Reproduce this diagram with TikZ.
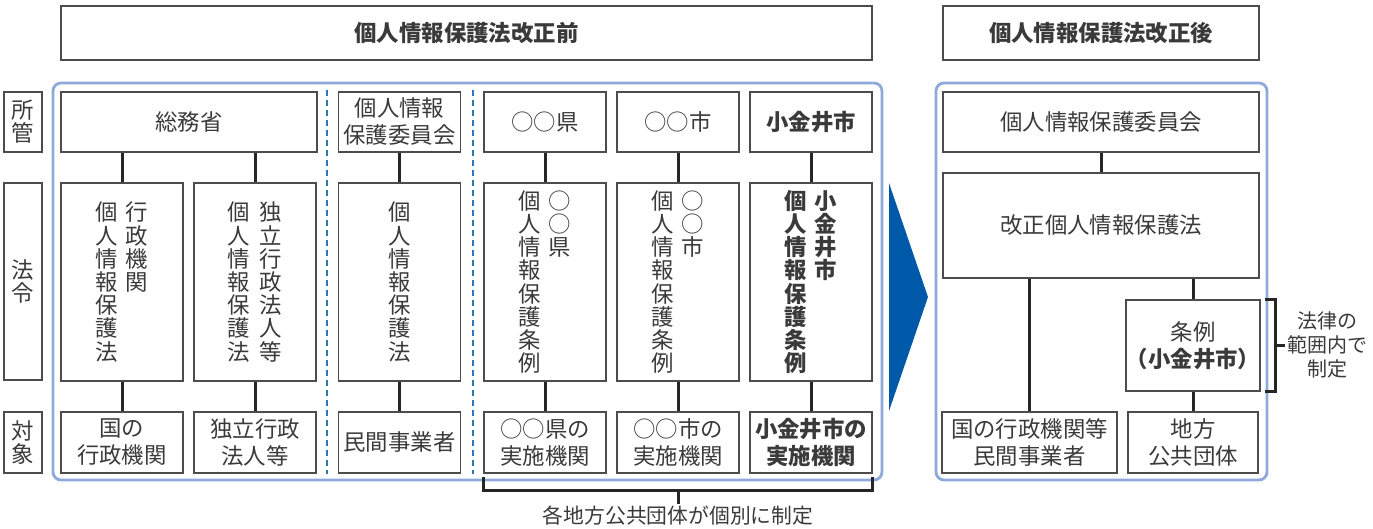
\documentclass[tikz,border=0pt]{standalone}
\usepackage{fontspec}
\setmainfont{Noto Sans CJK JP}
\usetikzlibrary{positioning}
\definecolor{framecol}{HTML}{8EAADB}
\definecolor{dashcol}{HTML}{2E75B6}
\definecolor{arrowcol}{HTML}{0058A8}
\definecolor{inkcol}{HTML}{3A3A3A}
\tikzset{
  box/.style    = {draw=black!70, line width=0.75pt, text=inkcol, inner sep=0pt,
                   align=center, font=\fontsize{11.2}{13.5}\selectfont},
  col/.style    = {box, minimum width=61pt},
  toprow/.style = {minimum height=30pt},
  lawrow/.style = {minimum height=99pt},
  tgtrow/.style = {minimum height=30.5pt},
  label/.style  = {box, minimum width=19pt},
  link/.style   = {black!85, line width=1.5pt},
  frame/.style  = {framecol, line width=1.4pt, rounded corners=4pt},
  divider/.style = {dashcol, densely dashed, line width=0.6pt},
  note/.style   = {text=inkcol, inner sep=1pt, align=center},
}
% one column of vertical text
\newcommand{\tate}[1]{\parbox[t]{1em}{\centering\fontsize{11.2}{11.6}\selectfont #1}}

\begin{document}
\begin{tikzpicture}[x=0.5pt,y=-0.5pt]
  \useasboundingbox (0,0) rectangle (1373,529);

  % frames, dividers and the arrow
  \draw[frame] (53,83) rectangle (882,480);
  \draw[frame] (936,83) rectangle (1267,480);
  \draw[divider] (327,90) -- (327,474);
  \draw[divider] (473,90) -- (473,474);
  \fill[arrowcol] (889,183) -- (928,297) -- (889,411) -- cycle;

  % headers
  \node[box, minimum width=405.5pt, minimum height=27pt, font=\fontsize{11.2}{13.5}\selectfont\bfseries] (hdrL) at (466.5,33) {個人情報保護法改正前};
  \node[box, minimum width=158pt, minimum height=27pt, font=\fontsize{11.2}{13.5}\selectfont\bfseries] (hdrR) at (1101,33) {個人情報保護法改正後};

  % row labels
  \node[label, minimum height=30pt] (labA) at (23,122) {\tate{所\\管}};
  \node[label, minimum height=98.5pt] (labB) at (23,281.5) {\tate{法\\令}};
  \node[label, minimum height=30.5pt] (labC) at (23,442.5) {\tate{対\\象}};

  % before: authorities
  \node[box, toprow, minimum width=128pt] (somu) at (189,122) {総務省};
  \node[col, toprow] (ppc) at (399.5,122) {個人情報\\保護委員会};
  \node[col, toprow] (ken) at (545,122) {○○県};
  \node[col, toprow] (shi) at (678,122) {○○市};
  \node[col, toprow, font=\fontsize{11.2}{13.5}\selectfont\bfseries] (kog) at (811,122) {小金井市};

  % before: laws
  \node[col, lawrow] (law1) at (122,282) {\tate{個\\人\\情\\報\\保\\護\\法}\hspace{3.8pt}\tate{行\\政\\機\\関}};
  \node[col, lawrow] (law2) at (255,282) {\tate{個\\人\\情\\報\\保\\護\\法}\hspace{4.8pt}\tate{独\\立\\行\\政\\法\\人\\等}};
  \node[col, lawrow] (law3) at (399.5,282) {\tate{個\\人\\情\\報\\保\\護\\法}};
  \node[col, lawrow] (law4) at (545,282) {\tate{個\\人\\情\\報\\保\\護\\条\\例}\hspace{3.8pt}\tate{○\\○\\県}};
  \node[col, lawrow] (law5) at (678,282) {\tate{個\\人\\情\\報\\保\\護\\条\\例}\hspace{3.8pt}\tate{○\\○\\市}};
  \node[col, lawrow, font=\fontsize{11.2}{13.5}\selectfont\bfseries] (law6) at (811,282) {\tate{\bfseries 個\\人\\情\\報\\保\\護\\条\\例}\hspace{3.8pt}\tate{\bfseries 小\\金\\井\\市}};

  % before: targets
  \node[col, tgtrow] (tgt1) at (122,442.5) {国の\\行政機関};
  \node[col, tgtrow] (tgt2) at (255,442.5) {独立行政\\法人等};
  \node[col, tgtrow] (tgt3) at (399.5,442.5) {民間事業者};
  \node[col, tgtrow] (tgt4) at (545,442.5) {○○県の\\実施機関};
  \node[col, tgtrow] (tgt5) at (678,442.5) {○○市の\\実施機関};
  \node[col, tgtrow, font=\fontsize{11.2}{13.5}\selectfont\bfseries] (tgt6) at (811,442.5) {小金井市の\\実施機関};

  % after
  \node[box, toprow, minimum width=158pt] (ppcR) at (1101,122) {個人情報保護委員会};
  \node[box, minimum width=158pt, minimum height=52.5pt] (newlaw) at (1101,225.5) {改正個人情報保護法};
  \node[box, minimum width=65pt, minimum height=45.5pt] (jorei) at (1193,345.5) {条例\\\textbf{（小金井市）}};
  \node[box, tgtrow, minimum width=87.5pt] (tgtR1) at (1029.5,442.5) {国の行政機関等\\民間事業者};
  \node[box, tgtrow, minimum width=65pt] (tgtR2) at (1193,442.5) {地方\\公共団体};

  % notes
  \node[note, font=\fontsize{10.4}{12}\selectfont] (each) at (678,516) {各地方公共団体が個別に制定};
  \node[note, font=\fontsize{10}{11.8}\selectfont] (range) at (1327,345) {法律の\\範囲内で\\制定};

  % connectors
  \draw[link] (law1.north |- somu.south) -- (law1.north);
  \draw[link] (law2.north |- somu.south) -- (law2.north);
  \draw[link] (ppc) -- (law3);
  \draw[link] (ken) -- (law4);
  \draw[link] (shi) -- (law5);
  \draw[link] (kog) -- (law6);
  \draw[link] (law1) -- (tgt1);
  \draw[link] (law2) -- (tgt2);
  \draw[link] (law3) -- (tgt3);
  \draw[link] (law4) -- (tgt4);
  \draw[link] (law5) -- (tgt5);
  \draw[link] (law6) -- (tgt6);
  \draw[link] (ppcR) -- (newlaw);
  \draw[link] (tgtR1.north |- newlaw.south) -- (tgtR1.north);
  \draw[link] (jorei.north |- newlaw.south) -- (jorei.north);
  \draw[link] (jorei) -- (tgtR2);

  % brackets
  \draw[link] ([yshift=-1.5pt]tgt4.south west) -- ++(0,14) coordinate (bkL) -| ([yshift=-1.5pt]tgt6.south east);
  \draw[link] (bkL -| each.north) -- (each.north);
  \draw[link] ([xshift=2pt]jorei.north east) -- ++(11,0) coordinate (bkT) |- ([xshift=2pt]jorei.south east);
  \draw[link] (bkT |- jorei.east) -- (range.west |- jorei.east);
\end{tikzpicture}
\end{document}
